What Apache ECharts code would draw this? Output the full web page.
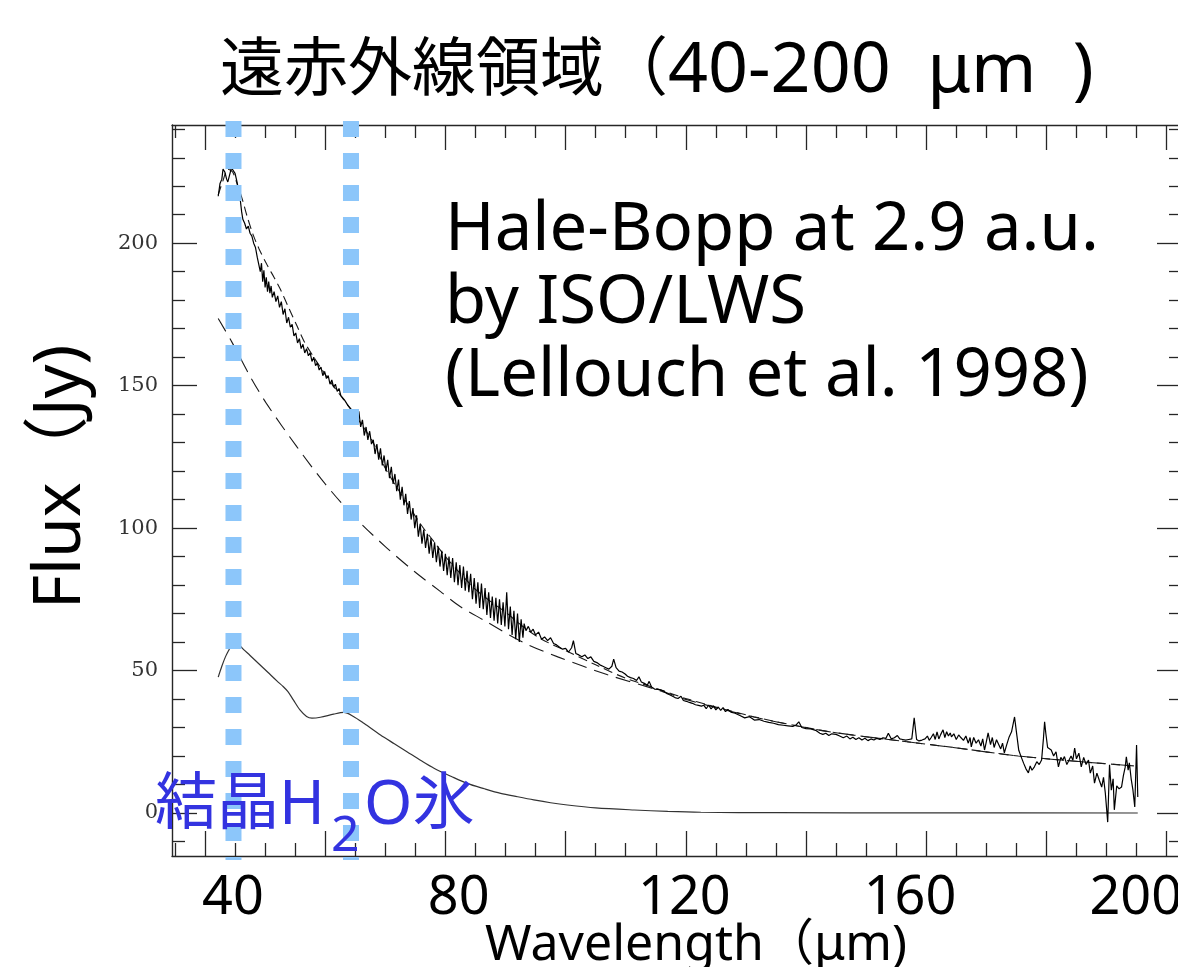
<!DOCTYPE html>
<html>
<head>
  <meta charset="UTF-8">
  <title>遠赤外線領域（40-200 μm）</title>
  <script src="https://cdn.jsdelivr.net/npm/echarts@6/dist/echarts.min.js"></script>
  <style>
    html, body { margin: 0; padding: 0; background: #fff; }
    #main { width: 1178px; height: 967px; }
  </style>
</head>
<body>
<div id="main"></div>
<script type="text/javascript">
  // ISO/LWS spectrum of Hale-Bopp at 2.9 a.u. : [wavelength (um), flux (Jy)]
  var spectrum = [
    [42.2,216.5],[42.5,221],[42.8,222.5],[43.0,226],[43.3,225],[43.6,222.5],[43.8,221.5],[44.1,224],[44.4,226.5],[44.7,226],
    [45.0,224.5],[45.3,221.8],[45.6,218.5],[45.8,216.5],[46.1,211],[46.3,208.4],
    [46.6,207],[46.9,205],[47.2,206],[47.5,203.5],[47.8,202.5],[48.1,200],[48.4,198.5],[48.7,195],[49.0,194.5],[49.2,190],
    [49.4,193],[49.6,186.5],[49.8,190.5],[50.0,184.5],[50.2,188],[50.4,183],[50.6,186.5],[50.8,182.5],[51.0,185],[51.2,181],
    [51.5,183],[51.8,179.5],[52.1,181.5],[52.4,177.5],[52.7,179.5],[53.0,175],[53.3,177],[53.6,172],[53.9,174],[54.2,170.5],
    [54.5,171.5],[54.8,167.5],[55.1,168.5],[55.4,165],[55.7,166.5],[56.0,163],[56.3,164.5],[56.6,161.5],[56.9,163],[57.2,160.5],
    [57.5,161.5],[57.8,158.5],[58.1,160],[58.4,157],[58.7,158],[59.0,155.5],[59.3,156.5],[59.6,153.5],[59.9,155],[60.2,152.5],
    [60.5,153.5],[60.8,150.5],[61.1,152],[61.4,149.5],[61.7,150.5],[62.0,148],[62.3,149],[62.6,146.5],[62.9,147],[63.2,145],
    [63.5,145.5],[63.8,143],[64.1,143.5],[64.4,141.5],[64.7,141],[65.0,140.5],[65.3,138],
    [65.6,141],[65.9,135.5],[66.2,138],[66.5,132.5],[66.8,135.5],[67.1,131],[67.4,134],[67.7,129.5],[68.0,131],[68.3,126],
    [68.6,129.5],[68.9,124],[69.2,128],[69.5,122],[69.8,125.5],[70.1,120],[70.4,124],[70.7,117.5],[71.0,121.5],[71.3,115.5],
    [71.6,119],[71.9,113],[72.2,117],[72.5,110],[72.8,114.5],[73.1,108],[73.4,112],[73.7,105],[74.0,109.5],[74.3,103],
    [74.6,107],[74.9,100],[75.2,104.5],[75.5,97],[75.8,101.5],[76.1,94.5],[76.4,99.5],[76.7,93],[77.0,98],[77.3,91],
    [77.6,96.5],[77.9,89.5],[78.2,95],[78.5,88],[78.8,93.5],[79.1,86.5],[79.4,92],[79.7,85],[80.0,91],[80.3,83.5],
    [80.6,90],[80.9,82.5],[81.2,89.5],[81.5,81],[81.8,88],[82.1,80],[82.4,87],[82.7,79],[83.0,86.5],[83.3,78],
    [83.6,85],[83.9,77.5],[84.2,84],[84.5,75],[84.8,82.5],[85.1,73.5],[85.4,81],[85.7,72],[86.0,80.5],[86.3,71.5],
    [86.6,79],[86.9,69.5],[87.2,77.5],[87.5,68.5],[87.8,76],[88.1,67.5],[88.4,75.5],[88.7,66.5],[89.0,75],[89.3,66],
    [89.6,74],[89.9,65.5],[90.2,77.5],[90.5,64.5],[90.8,72.5],[91.1,62.5],[91.4,71],[91.7,61],[92.0,70],[92.3,60],
    [92.6,68],[92.9,61.5],[93.1,66.5],
    [93.4,64],[93.8,65.5],[94.2,63.5],[94.6,64.5],[95.0,62.5],[95.5,63.5],[96.0,61],[96.5,61.8],[97.0,60.5],[97.5,61.5],
    [98.0,59.5],[98.5,59],[99.0,58.2],[99.5,57.5],[100.0,57.8],[100.5,56.5],[101.0,58],[101.3,60.5],[101.7,56],[102.2,55.5],
    [102.7,54.8],[103.2,55.5],[103.7,54.2],[104.2,54.8],[104.7,53.2],[105.2,52.8],[105.7,52],[106.2,51.5],[106.7,51],[107.2,50.5],
    [107.7,51.5],[108.0,54],[108.4,51],[108.9,49.8],[109.4,49.5],[109.9,48.8],[110.3,48],[110.8,47.5],[111.3,47.2],[111.8,46.5],
    [112.2,47.8],[112.6,46],[113.1,45.5],[113.6,44.8],[113.9,46.2],[114.3,44.2],[114.8,43.5],[115.3,43.4],[115.8,43.2],[116.3,42.8],
    [116.8,42],[117.3,41.5],[117.8,41],[118.2,40.5],[118.7,40.2],[119.2,41],[119.6,39.5],[120.1,39.2],[120.6,38.8],[121.1,38.5],
    [121.6,38],[122.1,37.8],[122.6,37.5],[123.0,37.8],[123.4,36.6],[123.8,37.9],[124.2,36.5],[124.6,37.6],[125.0,36.2],[125.4,37.2],
    [125.8,36],[126.2,37],[126.6,35.6],[127.0,36.3],[127.5,35.4],[128.2,35],[129.0,34.2],[129.8,33.4],[130.6,33.8],[131.4,32.6],
    [132.2,32.8],[133.0,32.2],[133.8,31.8],[134.6,31.5],[135.4,31],[136.2,30.8],[137.0,30.6],[137.8,30.4],[138.4,31],[138.8,32],
    [139.3,30],[140.0,29.6],[140.8,29.5],[141.6,29],[142.3,28],[142.8,27.6],[143.3,28],[143.8,27.2],[144.3,27.8],[145.0,27.6],
    [145.6,27],[146.2,26.4],[146.8,27],[147.3,26],[147.8,26.6],[148.3,25.8],[148.8,26.4],[149.3,25.6],[149.8,26.2],[150.3,25.4],
    [150.8,26],[151.3,25.6],[151.8,26.2],[152.3,25.8],[152.8,26.4],[153.3,26.2],[153.7,28],[154.2,26],[154.7,26.4],[155.2,27.2],
    [155.6,26],[156.1,25.8],[156.6,25.6],[157.1,25.8],[157.6,26],[158.0,33.4],[158.4,25.8],[158.8,25.3],[159.3,25.6],[159.8,26],
    [160.2,27],[160.5,25.5],[160.8,26.4],[161.2,27.8],[161.5,25.8],[161.8,28.5],[162.1,26],[162.4,27.5],[162.8,29.2],[163.1,26.5],
    [163.4,28.5],[163.7,27],[164.0,28.1],[164.2,26.7],[164.6,27.8],[165.0,25.8],[165.4,27.4],[165.8,26.4],[166.2,25.5],[166.6,27],
    [167.0,24.5],[167.3,26.5],[167.5,23.2],[167.9,26.5],[168.3,24.5],[168.7,25.7],[169.1,23.5],[169.4,26],[169.7,22.1],[170.0,25],
    [170.3,28.1],[170.7,24],[171.0,26.5],[171.3,23],[171.7,25.7],[172.0,25.2],[172.4,22.5],[172.7,24.5],[173.0,21.1],[173.4,24],
    [173.8,26.7],[174.2,28.5],[174.7,33.7],[175.1,27],[175.4,22],[175.8,19.7],[176.2,17.5],[176.6,15.5],[177.0,14.1],[177.3,16.5],
    [177.6,15],[178.0,16.2],[178.4,18],[178.8,17],[179.2,18.6],[179.5,26],[179.7,32],[179.9,28],[180.2,23],[180.5,22.8],
    [180.8,22.1],[181.2,20],[181.6,21.5],[182.0,16.2],[182.4,19.5],[182.7,18.5],[183.0,19.8],[183.4,17],[183.7,17.6],[184.1,20],
    [184.4,18.5],[184.7,22.8],[185.0,19],[185.4,21],[185.8,16.2],[186.2,19.5],[186.6,17],[187.0,18.6],[187.3,14],[187.7,16.5],
    [188.0,10.5],[188.4,14],[188.8,11.5],[189.2,9.1],[189.5,12.5],[189.8,7],[190.2,-3.2],[190.5,16.9],[190.8,8],[191.1,12],
    [191.3,1.1],[191.7,9.5],[192.1,8.5],[192.5,9.1],[192.8,13],[193.1,16],[193.3,19.7],[193.6,15],[193.8,17.6],[194.1,12],
    [194.4,8],[194.7,2.1],[195.0,23.9],[195.2,5.6]
  ];

  // model: continuum + crystalline water ice (short dashes)
  var totalModel = [
    [42.2,217],[43.0,222],[43.8,226],[44.6,225],[45.4,220.5],[46.2,215.5],[47.0,209.5],[48.0,203],[49.0,198],[50.3,192.5],
    [51.5,188],[52.5,184],[54.0,177],[55.3,171],[56.5,165.5],[58.0,160.3],[59.5,155.5],[61.3,150],[63.0,145.3],[64.7,140.5],
    [66.5,135],[68.0,130],[70.0,121],[72.0,114],[74.0,107.5],[76.0,101],[78.0,95.5],[80.0,90],[82.5,84],[85.0,78.5],
    [87.5,74.3],[90.0,70.5],[93.0,65.3],[96.0,61],[100.0,57],[105.0,52],[110.0,47.3],[115.0,43.8],[120.3,40],[131.3,33.8],
    [142.5,29],[148.0,27.3],[153.7,25.8],[164.5,23],[175.3,20],[186.3,17.9],[194.7,16.5]
  ];

  // dust continuum (long dashes)
  var continuum = [
    [42.2,173.6],[44.5,165.2],[47.5,153.3],[50.3,143.5],[55.3,128.5],[60.0,115.5],[64.5,104.7],[70.0,93.5],[75.0,84.5],[79.2,77.7],
    [82.5,72.4],[86.3,67.8],[93.0,59.8],[98.7,54.8],[107.0,48.5],[115.3,43.2],[120.3,39.7],[131.3,33.7],[142.5,29],[148.0,27.3],
    [153.7,25.8],[164.5,23],[175.3,20],[186.3,17.9],[194.7,16.5]
  ];

  // crystalline water ice emission (solid)
  var iceModel = [
    [42.2,47.7],[42.8,51.5],[43.4,54.8],[44.0,57.3],[44.6,59.6],[45.2,60.8],[46.0,58.3],[47.5,55.3],[49.0,52.3],[50.5,49.3],
    [52.0,46.3],[53.0,44.4],[53.8,42.6],[54.7,39.7],[55.8,36.2],[56.9,33.9],[57.8,33.3],[59.2,33.6],[61.4,34.7],[63.1,35.3],
    [64.7,33.9],[66.5,31.4],[69.2,27.4],[71.5,24.3],[73.6,21.5],[76.0,18.3],[78.1,15.7],[81.0,12.8],[83.6,10.4],[86.5,8.5],
    [89.2,6.9],[92.0,5.7],[94.7,4.6],[97.5,3.6],[100.3,2.8],[105.0,1.8],[111.4,1.05],[117.0,0.55],[122.5,0.25],[135.0,0.1],
    [160.0,0.05],[195.2,0]
  ];

  // ice band markers (um) and their vertical extent (Jy)
  var iceBands = [44.74, 64.29];
  var bandSpan = [242.9, -16.5];

  // axis ticks and labels
  var wlLabels = [40, 80, 120, 160, 200];
  var wlMajorTicks = [40, 60, 80, 100, 120, 140, 160, 180, 200];
  var wlMinorTicks = [35, 45, 50, 55, 65, 70, 75, 85, 90, 95, 105, 110, 115, 125, 130, 135, 145, 150, 155, 165, 170, 175, 185, 190, 195];
  var fluxLabels = [0, 50, 100, 150, 200];
  var fluxMinorTicks = [-10, 10, 20, 30, 40, 60, 70, 80, 90, 110, 120, 130, 140, 160, 170, 180, 190, 210, 220, 230, 240];

  var frameColor = '#262626';
  var sansFont = '"Noto Sans", "Noto Sans CJK JP", sans-serif';

  function tickX(pos, ticks, len, showLine) {
    return {
      type: 'value', position: pos, min: 34.51, max: 202.56,
      axisLine: { show: showLine, onZero: false, lineStyle: { color: frameColor, width: 1.4 } },
      axisTick: { show: true, inside: true, length: len, customValues: ticks, lineStyle: { color: frameColor, width: 1.3 } },
      axisLabel: { show: false },
      splitLine: { show: false }
    };
  }

  function tickY(pos, ticks, len, showLine, labels) {
    return {
      type: 'value', position: pos, min: -15.1, max: 241.5,
      axisLine: { show: showLine, onZero: false, lineStyle: { color: frameColor, width: 1.4 } },
      axisTick: { show: true, inside: true, length: len, customValues: ticks, lineStyle: { color: frameColor, width: 1.3 } },
      axisLabel: labels ? {
        show: true, customValues: labels, margin: 14,
        fontFamily: '"DejaVu Serif", serif', fontSize: 21, color: '#333'
      } : { show: false },
      splitLine: { show: false }
    };
  }

  var bandSeries = iceBands.map(function (wl) {
    return {
      type: 'line', xAxisIndex: 0, yAxisIndex: 0,
      data: [[wl, bandSpan[0]], [wl, bandSpan[1]]],
      showSymbol: false, symbol: 'none', clip: false, z: 8, silent: true,
      lineStyle: { color: '#8cc6fa', width: 16, type: [16, 16], cap: 'butt' }
    };
  });

  var option = {
    animation: false,
    backgroundColor: '#fff',
    // the frame runs past the right edge of the picture
    grid: { left: 172, top: 125, width: 1010, height: 731, outerBoundsMode: 'none', containLabel: false },
    xAxis: [
      tickX('bottom', wlMajorTicks, 25, true),
      tickX('bottom', wlMinorTicks, 13, false),
      tickX('top', wlMajorTicks, 25, true),
      tickX('top', wlMinorTicks, 13, false),
      {
        // presentation labels (drawn on their own scale)
        type: 'value', position: 'bottom', min: 29.19, max: 208.2,
        axisLine: { show: false, onZero: false },
        axisTick: { show: false },
        axisLabel: { show: true, customValues: wlLabels, margin: 16, fontFamily: sansFont, fontSize: 54, color: '#000' },
        splitLine: { show: false }
      }
    ],
    yAxis: [
      tickY('left', fluxLabels, 25, true, fluxLabels),
      tickY('left', fluxMinorTicks, 13, false),
      tickY('right', fluxLabels, 25, true),
      tickY('right', fluxMinorTicks, 13, false)
    ],
    series: [
      {
        name: 'continuum', type: 'line', data: continuum, smooth: 0.3,
        showSymbol: false, symbol: 'none', z: 3,
        lineStyle: { color: '#1a1a1a', width: 1.1, type: [15, 8] }
      },
      {
        name: 'model', type: 'line', data: totalModel, smooth: 0.3,
        showSymbol: false, symbol: 'none', z: 3,
        lineStyle: { color: '#1a1a1a', width: 1.1, type: [9, 5] }
      },
      {
        name: 'ice', type: 'line', data: iceModel, smooth: 0.3,
        showSymbol: false, symbol: 'none', z: 3,
        lineStyle: { color: '#333', width: 1.2 }
      },
      {
        name: 'Hale-Bopp', type: 'line', data: spectrum,
        showSymbol: false, symbol: 'none', z: 4,
        lineStyle: { color: '#000', width: 1.2 }
      }
    ].concat(bandSeries),
    graphic: [
      {
        type: 'text', x: 220, y: 72, z: 20,
        style: {
          text: '{c|遠赤外線領域（}{l|40-200  μm  )}',
          fill: '#000', verticalAlign: 'middle',
          rich: {
            c: { fontFamily: sansFont, fontSize: 64 },
            l: { fontFamily: sansFont, fontSize: 70 }
          }
        }
      },
      {
        type: 'text', x: 445, y: 194, z: 20,
        style: {
          text: 'Hale-Bopp at 2.9 a.u.\nby ISO/LWS\n(Lellouch et al. 1998)',
          fontFamily: sansFont, fontSize: 67, lineHeight: 73, fill: '#000', verticalAlign: 'top'
        }
      },
      {
        type: 'text', x: 61, y: 477, rotation: Math.PI / 2, z: 20,
        style: { text: 'Flux（Jy)', fontFamily: sansFont, fontSize: 66, fill: '#000', align: 'center', verticalAlign: 'middle' }
      },
      {
        type: 'text', x: 696, y: 946, z: 20,
        style: { text: 'Wavelength（μm)', fontFamily: sansFont, fontSize: 50, fill: '#000', align: 'center', verticalAlign: 'middle' }
      },
      {
        type: 'text', x: 155, y: 806, z: 20,
        style: { text: '結晶H', fontFamily: sansFont, fontSize: 62, fill: '#3333e0', verticalAlign: 'middle' }
      },
      {
        type: 'text', x: 331, y: 837, z: 20,
        style: { text: '2', fontFamily: sansFont, fontSize: 50, fill: '#3333e0', verticalAlign: 'middle' }
      },
      {
        type: 'text', x: 364, y: 806, z: 20,
        style: { text: 'O氷', fontFamily: sansFont, fontSize: 62, fill: '#3333e0', verticalAlign: 'middle' }
      }
    ]
  };

  var myChart = echarts.init(document.getElementById('main'));
  myChart.setOption(option);
</script>
</body>
</html>
